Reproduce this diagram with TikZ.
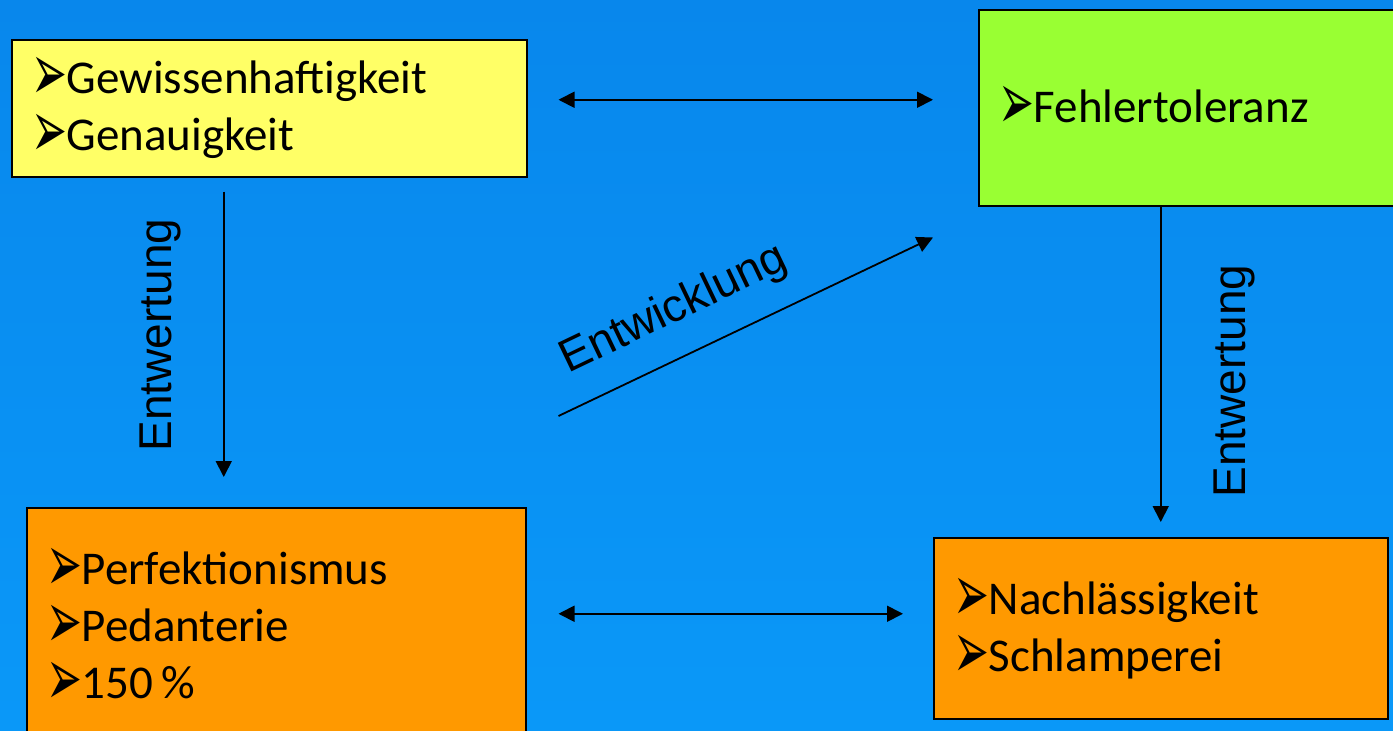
\documentclass[tikz,border=0pt]{standalone}
\usepackage{fontspec}
\setmainfont{Carlito}
\newfontfamily\arialfont{Liberation Sans}
\newfontfamily\bulletfont{DejaVu Sans}
\usetikzlibrary{arrows.meta}
\definecolor{bgtop}{HTML}{0887EC}
\definecolor{bgbot}{HTML}{0A98F8}
\definecolor{boxyellow}{HTML}{FFFF66}
\definecolor{boxgreen}{HTML}{99FF33}
\definecolor{boxorange}{HTML}{FF9900}
\newcommand{\pfeil}{\raisebox{-7pt}{\scalebox{0.74}[1.4]{\bulletfont\fontsize{58}{40}\selectfont ➢}}\kern-1pt}

\begin{document}
\begin{tikzpicture}[x=1pt, y=-1pt,
    box/.style={draw=black, line width=1.5pt, anchor=north west, align=left,
      inner xsep=20pt, inner ysep=0pt, font=\fontsize{47}{57}\selectfont},
    dbl/.style={{Triangle[length=16pt,width=16pt]}-{Triangle[length=16pt,width=16pt]}, line width=1.8pt},
    pfeilr/.style={-{Triangle[length=16pt,width=16pt]}, line width=1.8pt},
    lbl/.style={font=\arialfont\fontsize{46}{46}\selectfont, inner sep=0pt}]
  \useasboundingbox (0,0) rectangle (1393,731);
  \clip (0,0) rectangle (1393,731);
  \shade[top color=bgtop, bottom color=bgbot] (0,0) rectangle (1393,731);

  % Kaesten
  \node[box, fill=boxyellow, text width=475pt, minimum height=137pt] (gew) at (11,39)
    {\pfeil Gewissenhaftigkeit\\\pfeil Genauigkeit};
  \node[box, fill=boxgreen, text width=382pt, minimum height=196pt] (fehler) at (978,9)
    {\pfeil Fehlertoleranz};
  \node[box, fill=boxorange, text width=459pt, minimum height=238pt] (perf) at (26,507)
    {\pfeil Perfektionismus\\\pfeil Pedanterie\\\pfeil 150\,\%};
  \node[box, fill=boxorange, text width=414pt, minimum height=181pt] (nach) at (933,537)
    {\pfeil Nachlässigkeit\\\pfeil Schlamperei};

  % Pfeile
  \draw[dbl, shorten <=31pt, shorten >=45pt] ([yshift=8.5pt]gew.east) -- ([yshift=8.5pt]gew.east -| fehler.west);
  \draw[dbl, shorten <=32pt, shorten >=30pt] ([yshift=13pt]perf.east) -- ([yshift=13pt]perf.east -| nach.west);
  \draw[pfeilr, shorten <=14pt, shorten >=30pt] ([xshift=-45.5pt]gew.south) -- ([xshift=-45.5pt]gew.south |- perf.north);
  \draw[pfeilr, shorten >=15pt] (fehler.south -| nach.north) -- (nach.north);
  \draw[pfeilr] ([shift={(32,-91)}]perf.north east) -- ([shift={(-45,31)}]fehler.south west);

  \node[lbl, rotate=90] (entw1) at (160,335) {Entwertung};
  \node[lbl, rotate=90] (entw2) at (1234,381) {Entwertung};
  \node[lbl, rotate=25.6] (entwl) at (674,310) {Entwicklung};
\end{tikzpicture}
\end{document}
